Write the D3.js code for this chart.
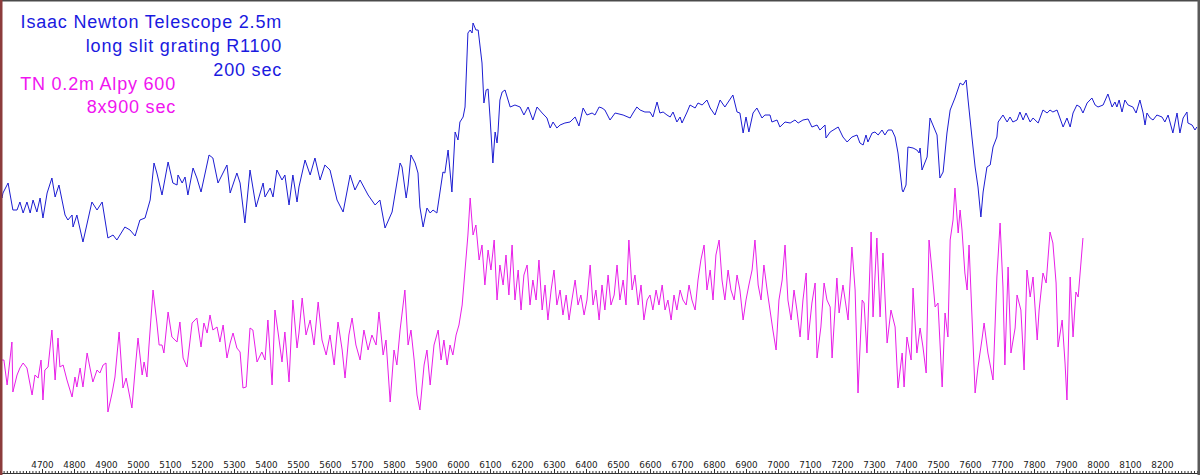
<!DOCTYPE html>
<html><head><meta charset="utf-8">
<script src="https://cdn.jsdelivr.net/npm/d3@7"></script>
<style>html,body{margin:0;padding:0;background:#fff;overflow:hidden}</style>
</head><body>
<svg id="c" width="1200" height="475"></svg>
<script>
// wavelength in Angstrom, relative flux (arbitrary units)
const xTicks = [4700,4800,4900,5000,5100,5200,5300,5400,5500,5600,5700,5800,5900,6000,6100,6200,6300,6400,6500,6600,6700,6800,6900,7000,7100,7200,7300,7400,7500,7600,7700,7800,7900,8000,8100,8200];
const intTitle = ["Isaac Newton Telescope 2.5m","long slit grating R1100","200 sec"];
const tnTitle = ["TN 0.2m Alpy 600","8x900 sec"];

const intSpectrum = [[4569,123.5],[4575,121],[4578,123.5],[4594,128.5],[4609,115],[4622,115],[4631,119],[4641,113.5],[4653,119],[4663,113.5],[4672,120],[4684,114],[4694,121],[4703,111],[4716,123.5],[4731,131],[4741,121.5],[4753,127.5],[4772,112.5],[4781,110],[4794,112.5],[4797,106.5],[4809,112.5],[4828,99],[4856,119],[4872,115],[4888,119],[4906,101],[4922,102.5],[4934,100],[4959,106.5],[4975,105],[4991,102],[5006,110],[5022,111],[5038,120],[5050,138.5],[5059,133.5],[5075,122.5],[5094,139],[5109,128.5],[5122,127.5],[5125,132.5],[5138,128.5],[5147,131.5],[5156,122.5],[5172,136],[5184,131],[5197,124],[5222,142.5],[5234,141],[5250,128.5],[5278,137.5],[5288,123.5],[5309,133.5],[5319,128.5],[5334,108.5],[5350,135],[5369,116.5],[5391,128.5],[5397,121.5],[5413,126],[5422,121.5],[5434,135],[5450,130],[5459,132.5],[5472,117.5],[5484,132.5],[5497,119],[5503,126.5],[5522,140],[5538,132.5],[5553,141],[5569,130],[5584,137.5],[5600,135],[5622,120],[5641,114],[5663,132.5],[5678,125],[5694,130],[5719,122.5],[5741,117.5],[5756,120],[5772,106],[5794,114],[5813,132.5],[5819,138.5],[5825,136.5],[5838,121],[5844,127.5],[5853,142.5],[5866,138.5],[5875,133.5],[5881,116.5],[5891,106.5],[5903,116],[5913,113.5],[5922,115],[5934,113.5],[5953,134],[5959,133.5],[5969,145],[5981,124],[5991,154],[6000,150],[6006,159],[6016,161.5],[6022,166.5],[6031,203.5],[6038,205],[6044,203.5],[6047,208.5],[6056,205],[6063,205],[6075,188.5],[6081,168.5],[6088,175],[6094,175.5],[6100,161.5],[6109,138.5],[6116,154],[6122,148.5],[6125,154],[6131,170],[6138,174],[6147,175],[6163,166.5],[6178,167.5],[6194,166.5],[6206,162.5],[6219,166.5],[6234,160],[6247,166.5],[6263,163.5],[6278,161],[6288,156],[6297,159],[6309,156],[6319,157.5],[6334,158.5],[6350,159],[6366,161.5],[6378,157],[6391,166],[6403,162.5],[6419,163.5],[6428,162.5],[6441,166.5],[6450,166],[6459,165],[6475,160],[6491,163.5],[6516,162.5],[6538,161],[6547,163.5],[6559,166.5],[6569,165],[6584,164],[6600,164],[6609,161.5],[6622,169],[6631,163.5],[6641,164],[6653,162.5],[6663,161.5],[6672,164],[6684,159],[6694,161.5],[6700,158.5],[6716,164],[6725,167.5],[6741,166],[6750,168.5],[6763,167.5],[6778,170],[6788,166],[6803,162.5],[6819,170],[6834,166.5],[6859,172.5],[6872,164],[6881,163.5],[6891,153.5],[6900,161.5],[6909,154],[6922,163.5],[6934,166],[6950,161],[6959,162.5],[6975,162.5],[6981,159],[6997,160],[7006,156.5],[7022,159],[7038,158.5],[7053,160],[7063,158.5],[7078,160],[7094,160.5],[7106,156.5],[7122,157.5],[7131,155],[7147,157.5],[7150,151],[7163,154],[7188,156.5],[7203,151.5],[7216,149],[7231,151.5],[7247,152.5],[7256,148.5],[7266,147.5],[7275,152.5],[7281,149],[7294,153.5],[7303,154],[7313,152.5],[7325,155],[7334,152.5],[7344,155],[7356,155],[7366,151.5],[7375,143.5],[7388,125],[7391,124],[7400,127.5],[7406,146.5],[7422,146],[7434,145],[7441,143.5],[7444,146],[7450,135],[7466,141.5],[7475,161],[7484,157.5],[7497,152.5],[7506,131],[7516,134],[7528,153.5],[7538,165],[7553,171],[7569,178.5],[7578,177.5],[7588,180],[7594,170],[7606,151.5],[7616,136.5],[7625,126.5],[7634,111.5],[7641,124],[7653,136.5],[7663,137.5],[7672,146.5],[7684,151.5],[7688,159],[7703,162.5],[7716,159],[7725,161.5],[7734,159],[7747,160],[7756,164],[7766,160],[7775,163.5],[7788,159],[7797,161],[7813,158.5],[7828,165],[7841,163.5],[7850,165],[7859,164],[7872,165],[7881,161],[7891,156.5],[7903,161],[7913,156.5],[7922,163.5],[7934,167.5],[7944,166.5],[7953,163.5],[7966,168.5],[7981,171],[7991,167.5],[8000,166.5],[8016,167.5],[8031,173],[8044,166.5],[8053,169],[8059,166.5],[8066,170],[8075,164],[8084,170],[8094,167.5],[8109,166.5],[8119,163.5],[8131,170],[8141,163.5],[8147,157.5],[8153,163.5],[8163,161],[8172,160],[8184,162.5],[8200,161.5],[8209,159],[8219,162.5],[8234,153.5],[8247,163.5],[8256,153.5],[8266,161],[8278,164],[8281,158.5],[8294,157.5],[8303,155],[8309,156.5]];

const tnSpectrum = [[4569,40],[4581,40],[4591,27.5],[4606,49],[4609,24],[4622,32.5],[4631,36],[4641,38.5],[4653,36],[4669,22.5],[4678,32.5],[4688,31],[4697,40],[4703,20],[4709,35],[4719,36.5],[4731,55],[4741,30],[4750,51],[4756,36.5],[4766,37.5],[4778,30],[4794,21.5],[4803,31.5],[4809,26.5],[4819,36],[4828,26.5],[4841,43.5],[4850,36],[4859,29],[4872,35],[4881,33.5],[4891,37.5],[4900,38.5],[4906,14],[4919,23.5],[4928,31.5],[4941,54],[4953,26],[4963,31],[4981,16],[4991,35],[5000,51],[5013,32.5],[5019,39],[5028,31.5],[5034,46.5],[5047,75],[5059,58.5],[5066,47.5],[5075,47.5],[5081,43.5],[5094,64],[5106,51.5],[5122,49],[5131,59],[5141,41],[5153,36.5],[5169,58.5],[5184,61],[5197,46.5],[5206,58.5],[5216,53.5],[5225,62.5],[5234,55],[5247,56.5],[5256,49],[5266,57.5],[5278,41],[5288,48.5],[5297,53.5],[5309,46],[5319,44],[5328,26],[5338,26.5],[5350,56],[5359,55],[5372,39],[5387,44],[5397,40],[5406,60],[5419,27.5],[5428,65],[5438,53.5],[5450,39],[5459,54],[5472,29],[5484,70],[5497,46],[5503,53.5],
[5513,71],[5525,52.5],[5538,60],[5550,47.5],[5563,69],[5575,50],[5588,42.5],[5600,52.5],[5613,37.5],[5625,59],[5638,45],[5647,31],[5659,52.5],[5669,61],[5681,47.5],[5694,40],[5706,55],[5719,45],[5731,52.5],[5744,47.5],[5753,64],[5766,42.5],[5775,50],[5788,19],[5800,45],[5809,37.5],[5819,55],[5834,75],[5844,47.5],[5853,55],[5863,40],[5872,22.5],[5881,15],[5894,37.5],[5903,45],[5913,27.5],[5925,47.5],[5938,55],[5947,40],[5956,50],[5966,37.5],[5975,47.5],[5984,42.5],[5994,52.5],[6003,57.5],[6013,67.5],[6022,85],[6031,102.5],[6038,121],
[6047,102.5],[6056,107.5],[6066,90],[6075,97.5],[6084,77.5],[6094,95],[6103,85],[6113,100],[6122,70],[6131,87.5],[6141,77.5],[6150,92.5],[6159,72.5],[6169,97.5],[6178,70],[6188,85],[6197,65],[6206,82.5],[6216,87.5],[6225,67.5],[6234,80],[6244,70],[6253,90],[6263,65],[6272,77.5],[6281,60],[6291,75],[6300,85],[6309,67.5],[6319,75],[6328,62.5],[6338,72.5],[6347,60],[6356,70],[6366,80],[6375,67.5],[6384,72.5],[6394,62.5],[6403,70],[6413,87.5],[6422,67.5],[6431,75],[6441,60],[6450,77.5],[6459,65],[6469,82.5],[6478,67.5],[6488,72.5],[6497,87.5],[6506,70],[6516,80],[6525,67.5],[6534,100],[6544,75],[6553,82.5],[6563,67.5],[6572,77.5],[6581,60],[6591,70],[6600,72.5],[6609,65],[6619,75],[6628,67.5],[6638,77.5],[6647,65],[6656,70],[6666,60],[6675,72.5],[6684,65],[6694,75],[6703,70],[6713,67.5],[6722,77.5],[6731,70],[6741,65],[6750,80],[6759,90],[6769,97.5],[6778,75],[6788,85],[6797,70],[6806,92.5],[6816,100],[6825,80],[6834,70],[6844,85],[6853,75],[6863,70],[6872,82.5],[6881,75],[6891,60],[6900,70],[6909,77.5],[6919,85],[6928,100],[6938,77.5],[6947,70],[6956,87.5],[6966,75],[6975,65],[6984,55],[6994,45],[7003,70],[7013,80],[7022,97.5],[7031,70],[7041,60],[7050,75],[7059,65],
[7069,51.5],[7078,70],[7088,83.5],[7094,50],[7106,68.5],[7116,78.5],[7122,41],[7134,56.5],[7144,78.5],[7153,70],[7163,66.5],[7169,41],[7184,81],[7191,63.5],[7203,77.5],[7219,60],[7231,96.5],[7241,75],[7250,23.5],[7263,70],[7269,68.5],[7278,43.5],[7291,104],[7297,61.5],[7309,101],[7319,61.5],[7328,93.5],[7341,48.5],[7353,65],[7366,56.5],[7375,26],[7388,43.5],[7394,26.5],[7403,51.5],[7416,40],[7422,76],[7434,43.5],[7444,56],[7453,46.5],[7463,33.5],[7472,100],[7481,85],[7491,66.5],[7500,68.5],[7513,26.5],[7522,63.5],[7531,51.5],[7538,100],[7547,110],[7553,126],[7563,103.5],[7569,115],[7575,105],[7584,83.5],[7591,75],[7597,97.5],[7616,23.5],[7625,36.5],[7638,51],[7644,58.5],[7656,43.5],[7672,30],[7684,81.5],[7694,108.5],[7703,76.5],[7709,37.5],[7719,86.5],[7728,43.5],[7741,56],[7747,72.5],[7759,65],[7769,35],[7778,85],[7788,71.5],[7797,81.5],[7810,50],[7816,65],[7828,83.5],[7838,78.5],[7850,104],[7859,98.5],[7869,78.5],[7875,46.5],[7888,60],[7897,38.5],[7903,20],[7913,81.5],[7922,51.5],[7931,74],[7938,71.5],[7953,101]];

const svg = d3.select("#c");
const x = d3.scaleLinear().domain([4568.75, 8318.75]).range([0, 1200]);
const y = d3.scaleLinear().domain([0, 220]).range([440, 0]);

const line = d3.line().x(d => x(d[0])).y(d => y(d[1]));

svg.append("path").datum(intSpectrum)
  .attr("d", line).attr("fill", "none")
  .attr("stroke", "#1c1cd2").attr("stroke-width", 1).attr("stroke-linejoin", "round");
svg.append("path").datum(tnSpectrum)
  .attr("d", line).attr("fill", "none")
  .attr("stroke", "#e81ee8").attr("stroke-width", 1).attr("stroke-linejoin", "round");

// axis (labels above line, ticks upward)
const axisY = 473;
const minor = d3.range(4570, 8320, 10);
svg.append("g").attr("transform", `translate(0,${axisY})`)
  .call(d3.axisTop(x).tickValues(minor).tickSize(2).tickFormat(""))
  .call(g => g.select(".domain").remove())
  .call(g => g.selectAll("line").attr("stroke", "#333"));
const ax = svg.append("g").attr("transform", `translate(0,${axisY})`)
  .call(d3.axisTop(x).tickValues(xTicks).tickSize(4).tickPadding(1.5).tickFormat(d3.format("d")));
ax.select(".domain").remove();
ax.selectAll("line").attr("stroke", "#333");
ax.selectAll("text").attr("font-family", "DejaVu Sans, Verdana, sans-serif")
  .attr("font-size", "8.8px").attr("fill", "#222");
svg.append("line").attr("x1", 0).attr("x2", 1198).attr("y1", axisY + 0.5).attr("y2", axisY + 0.5)
  .attr("stroke", "#333").attr("stroke-width", 1);

// titles
const tFont = "Liberation Sans, Arial, sans-serif";
const blueY = [28, 52, 75.5];
svg.append("g").selectAll("text").data(intTitle).join("text")
  .attr("x", 282).attr("y", (d, i) => blueY[i])
  .attr("text-anchor", "end").attr("font-family", tFont).attr("font-size", "18px")
  .attr("letter-spacing", "0.8px").attr("fill", "#1a1ae0").text(d => d);
const magY = [90, 112.5];
svg.append("g").selectAll("text").data(tnTitle).join("text")
  .attr("x", 176).attr("y", (d, i) => magY[i])
  .attr("text-anchor", "end").attr("font-family", tFont).attr("font-size", "18px")
  .attr("letter-spacing", "0.8px").attr("fill", "#f014f0").text(d => d);

// frame
svg.append("rect").attr("x", 0).attr("y", 0).attr("width", 1200).attr("height", 1.5).attr("fill", "#4a4a4a");
svg.append("rect").attr("x", 0).attr("y", 0).attr("width", 2.5).attr("height", 475).attr("fill", "#8c3c3c");
svg.append("rect").attr("x", 1197.5).attr("y", 0).attr("width", 2.5).attr("height", 475).attr("fill", "#5a5a5a");
</script>
</body></html>
